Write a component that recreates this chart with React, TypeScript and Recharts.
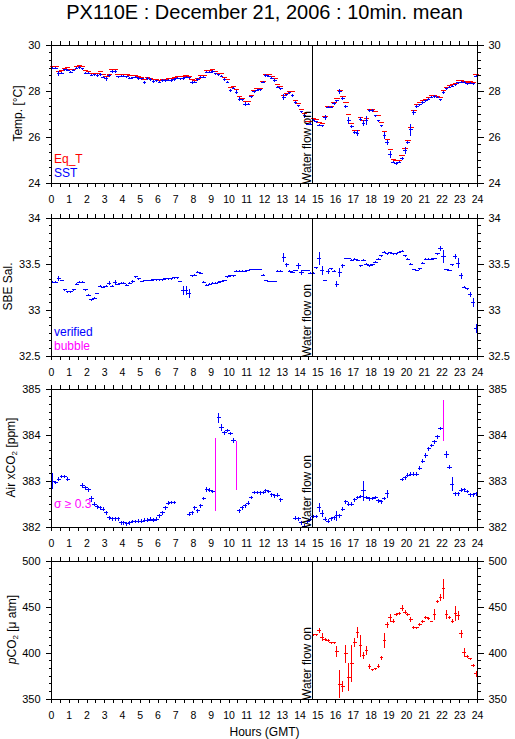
import React from "react";
import { ComposedChart, Scatter, XAxis, YAxis, ErrorBar, ReferenceLine } from "recharts";

const FONT = '"Liberation Sans", Arial, Helvetica, sans-serif';
const BLUE = "#0000ff";
const RED = "#ff0000";
const MAGENTA = "#ff00ff";

const TITLE = "PX110E : December 21, 2006 : 10min. mean";
const HOUR_TICKS = [0, 1, 2, 3, 4, 5, 6, 7, 8, 9, 10, 11, 12, 13, 14, 15, 16, 17, 18, 19, 20, 21, 22, 23, 24];
const WATER_ON = 14.7;

// 10-min means, six per hour (hh:05, hh:15, ... hh:55)
const SST = [
  29.0, 29.0, 28.75, 28.78, 28.92, 28.9,
  28.82, 28.9, 29.0, 29.02, 28.97, 28.78,
  28.78, 28.69, 28.7, 28.67, 28.72, 28.6,
  28.53, 28.67, 28.85, 28.85, 28.62, 28.64,
  28.64, 28.62, 28.56, 28.58, 28.6, 28.55,
  28.53, 28.38, 28.55, 28.5, 28.41, 28.44,
  28.38, 28.46, 28.46, 28.47, 28.46, 28.5,
  28.56, 28.53, 28.55, 28.6, 28.58, 28.38,
  28.38, 28.5, 28.6, 28.6, 28.82, 28.82,
  28.85, 28.75, 28.7, 28.65, 28.5, 28.38,
  28.02, 28.12, 27.95, 27.65, 27.62, 27.43,
  27.43, 27.75, 27.97, 28.03, 28.05, 28.38,
  28.67, 28.64, 28.56, 28.46, 28.16, 28.1,
  27.73, 27.83, 27.92, 27.8, 27.5, 27.36,
  27.1, 26.92, 26.56, 26.56, 26.73, 26.66,
  26.52, 26.49, 26.85, 27.29, 27.29, 27.46,
  27.58, 27.97, 27.68, 27.33, 26.73, 26.46,
  26.2, 26.17, 26.78, 26.6, 26.71, 27.15,
  27.15, 26.92, 26.71, 26.49, 26.08, 25.76,
  25.25, 24.91, 24.85, 24.91, 25.06, 25.4,
  25.76, 26.31, 27.07, 27.32, 27.4, 27.5,
  27.58, 27.65, 27.73, 27.76, 27.73, 27.61,
  27.94, 28.09, 28.16, 28.21, 28.27, 28.35,
  28.38, 28.38, 28.31, 28.34, 28.31, 28.64,
];
const SST_ERR: Record<string, number> = {
  "00:25": 0.1, "03:05": 0.08, "05:15": 0.06, "07:55": 0.06, "10:05": 0.08, "10:25": 0.1,
  "10:35": 0.1, "10:55": 0.08, "13:05": 0.12, "13:35": 0.08, "14:15": 0.1, "15:25": 0.1,
  "16:15": 0.1, "16:45": 0.15, "17:15": 0.12, "17:25": 0.1, "17:35": 0.12, "17:45": 0.2,
  "18:45": 0.15, "18:55": 0.1, "19:05": 0.15, "19:55": 0.15, "20:15": 0.25, "20:25": 0.1,
};

const EQ_T = [
  29.08, 29.08, 28.85, 28.88, 28.98, 29.02,
  28.93, 28.95, 29.07, 29.1, 29.05, 28.87,
  28.86, 28.78, 28.78, 28.76, 28.85, 28.7,
  28.62, 28.73, 28.93, 28.93, 28.73, 28.72,
  28.72, 28.7, 28.66, 28.66, 28.68, 28.63,
  28.6, 28.48, 28.58, 28.56, 28.5, 28.5,
  28.46, 28.52, 28.52, 28.55, 28.55, 28.57,
  28.62, 28.62, 28.64, 28.66, 28.64, 28.48,
  28.46, 28.56, 28.68, 28.68, 28.88, 28.88,
  28.92, 28.84, 28.78, 28.74, 28.6, 28.52,
  28.15, 28.2, 28.05, 27.78, 27.68, 27.55,
  27.55, 27.82, 28.04, 28.1, 28.12, 28.4,
  28.73, 28.7, 28.62, 28.55, 28.28, 28.18,
  27.8, 27.88, 27.98, 27.96, 27.6, 27.46,
  27.2, 27.02, 26.68, 26.66, 26.8, 26.78,
  26.62, 26.6, 26.9, 27.32, 27.34, 27.52,
  27.68, 28.04, 27.76, 27.5, 26.96, 26.58,
  26.28, 26.28, 26.85, 26.7, 26.8, 27.2,
  27.2, 27.1, 26.92, 26.62, 26.22, 25.88,
  25.45, 25.02, 24.98, 24.98, 25.18, 25.5,
  25.85, 26.4, 27.14, 27.4, 27.48, 27.58,
  27.62, 27.72, 27.8, 27.82, 27.78, 27.7,
  28.02, 28.14, 28.24, 28.28, 28.32, 28.44,
  28.44, 28.42, 28.38, 28.4, 28.36, 28.7,
];

const SAL = [
  33.3, 33.3, 33.34, 33.32, 33.22, 33.2,
  33.2, 33.22, 33.28, 33.3, 33.3, 33.22,
  33.16, 33.11, 33.13, 33.18, 33.26, 33.25,
  33.26, 33.29, 33.26, 33.3, 33.28, 33.29,
  33.29, 33.27, 33.29, 33.31, 33.36, 33.34,
  33.31, 33.32, 33.32, 33.32, 33.33, 33.33,
  33.33, 33.33, 33.34, 33.34, 33.34, 33.35,
  33.35, 33.31, 33.21, 33.21, 33.18, 33.37,
  33.38, 33.41, 33.4, 33.3, 33.27, 33.28,
  33.29, 33.29, 33.3, 33.31, 33.32, 33.36,
  33.37, 33.37, 33.42, 33.42, 33.42, 33.42,
  33.43, 33.44, 33.44, 33.44, 33.44, 33.38,
  33.32, 33.31, 33.31, 33.31, 33.42, 33.42,
  33.57, 33.49, 33.42, 33.41, 33.43, 33.48,
  33.41, 33.43, 33.43, 33.4, 33.4, 33.46,
  33.56, 33.43, 33.32, 33.42, 33.45, 33.42,
  33.28, 33.41, 33.48, 33.56, 33.56, 33.54,
  33.55, 33.54, 33.48, 33.54, 33.5, 33.48,
  33.49, 33.52, 33.55, 33.59, 33.63, 33.61,
  33.62, 33.61, 33.61, 33.63, 33.64, 33.59,
  33.55, 33.5, 33.44, 33.43, 33.45, 33.51,
  33.55, 33.55, 33.55, 33.56, 33.61, 33.67,
  33.58, 33.44, 33.43, 33.49, 33.58, 33.51,
  33.37, 33.25, 33.23, 33.17, 33.08, 32.8,
];
const SAL_ERR: Record<string, number> = {
  "00:25": 0.03, "03:15": 0.02, "03:35": 0.03, "04:35": 0.02, "07:25": 0.05, "07:35": 0.05,
  "07:45": 0.05, "13:05": 0.05, "13:15": 0.02, "13:55": 0.03, "14:05": 0.03, "15:05": 0.07,
  "15:15": 0.05, "15:35": 0.03, "16:05": 0.03, "16:15": 0.05, "16:25": 0.02, "21:55": 0.03,
  "22:05": 0.07, "22:45": 0.03, "22:55": 0.05, "23:05": 0.03, "23:35": 0.03, "23:45": 0.05,
  "23:55": 0.05,
};

const AIR = [
  383.0, 382.97, 383.04, 383.1, 383.1, 383.04,
  null, null, null, null, 382.9, 382.85,
  382.81, 382.61, 382.5, 382.44, 382.42, 382.39,
  382.31, 382.2, 382.18, 382.18, 382.18, 382.09,
  382.09, 382.07, 382.09, 382.12, 382.12, 382.13,
  382.13, 382.15, 382.15, 382.17, 382.15, 382.17,
  382.24, 382.31, 382.42, 382.52, 382.53, 382.53,
  null, null, null, null, 382.28, 382.31,
  382.42, 382.35, 382.46, 382.62, 382.82, 382.8,
  382.77, null, 384.37, 384.16, 384.05, 384.1,
  384.03, 383.88, null, 382.35, 382.42, 382.46,
  382.52, 382.64, 382.75, 382.75, 382.74, 382.75,
  382.79, 382.77, 382.7, 382.68, 382.69, 382.59,
  null, null, null, null, 382.19, 382.18,
  382.09, 382.02, 382.12, 382.17, 382.23, 382.23,
  382.42, 382.29, 382.17, 382.13, 382.18, 382.2,
  382.24, 382.24, 382.39, 382.55, 382.5, 382.5,
  382.59, 382.64, 382.66, 382.79, 382.64, 382.61,
  382.62, 382.64, 382.57, 382.55, 382.62, 382.72,
  null, null, null, null, 383.03, 383.07,
  383.13, 383.15, 383.15, 383.15, 383.28, 383.43,
  383.55, 383.7, 383.77, 383.85, 383.96, 384.14,
  null, 383.57, 383.3, 382.93, 382.72, 382.72,
  382.8, 382.81, 382.77, 382.7, 382.7, 382.72,
];
const AIR_ERR: Record<string, number> = {
  "00:05": 0.17, "01:45": 0.05, "02:15": 0.06, "08:45": 0.05, "09:25": 0.1, "09:35": 0.08,
  "10:15": 0.06, "15:05": 0.1, "15:15": 0.08, "16:05": 0.1, "17:35": 0.22, "18:55": 0.08,
  "21:05": 0.06, "22:15": 0.08, "22:35": 0.15,
};
// points with sigma >= 0.3
const AIR_HIGH_SIGMA_TIMES = ["09:15", "10:25", "22:05"];
const AIR_HIGH_SIGMA_VALUES = [383.14, 383.34, 384.32];
const AIR_HIGH_SIGMA_ERR = [0.79, 0.54, 0.44];

// pCO2 starts with the water flow, from 14:05 on
const PCO2_START_HOUR = 14;
const PCO2 = [
  null, null, null, null, 419.7, 419.7,
  424.4, 417.2, 414.3, 413.5, 411.0, 411.0,
  401.6, 366.3, 363.4, 399.0, 373.6, 388.8,
  411.7, 422.6, 408.1, 397.2, 402.6, 385.2,
  381.6, 382.7, 385.6, 394.7, 413.5, 430.6,
  438.2, 434.6, 441.9, 442.6, 448.8, 444.4,
  441.9, 436.4, 428.1, 427.4, 430.6, 434.3,
  438.2, 437.9, 434.3, 441.9, 456.0, 460.0,
  469.9, 441.9, 438.2, 434.6, 443.3, 440.8,
  420.8, 400.8, 396.0, 393.6, 386.3, 377.2,
];
const PCO2_ERR = [
  0, 0, 0, 0, 1, 1,
  3, 4, 1.5, 1.5, 1, 1,
  6, 15, 6, 10, 15, 20,
  5, 6, 12, 4, 5, 3,
  1.5, 1.5, 2, 2, 8, 3,
  4, 2, 1.5, 1.5, 3, 2,
  2, 3, 1.5, 1, 1.5, 1.5,
  1.5, 1.5, 1, 6, 1.5, 4,
  11, 5, 1.5, 2, 8, 5,
  4, 5, 1.5, 1.5, 1.5, 3,
];

type Pt = { h: number; v: number; ex: number; ey: number };

const slotKey = (i: number) => {
  const hh = Math.floor(i / 6);
  const mm = (i % 6) * 10 + 5;
  return `${String(hh).padStart(2, "0")}:${String(mm).padStart(2, "0")}`;
};
const keyHour = (k: string) => Number(k.slice(0, 2)) + Number(k.slice(3)) / 60;

function toPoints(vals: (number | null)[], start: number, xErr: number, err: (i: number) => number): Pt[] {
  const out: Pt[] = [];
  vals.forEach((v, i) => {
    if (v == null) return;
    out.push({ h: start + (i + 0.5) / 6, v, ex: xErr, ey: err(i) });
  });
  return out;
}

const sstPts = toPoints(SST, 0, 0.1, (i) => SST_ERR[slotKey(i)] ?? 0.05);
const eqtPts = toPoints(EQ_T, 0, 0.15, () => 0.02);
const salPts = toPoints(SAL, 0, 0.12, (i) => SAL_ERR[slotKey(i)] ?? 0.01);
const airPts = toPoints(AIR, 0, 0.12, (i) => AIR_ERR[slotKey(i)] ?? 0.04);
const airHighPts: Pt[] = AIR_HIGH_SIGMA_TIMES.map((t, i) => ({
  h: keyHour(t),
  v: AIR_HIGH_SIGMA_VALUES[i],
  ex: 0,
  ey: AIR_HIGH_SIGMA_ERR[i],
}));
const pco2Pts = toPoints(PCO2, PCO2_START_HOUR, 0.1, (i) => PCO2_ERR[i]);

const X_TICKS = HOUR_TICKS.flatMap((h) => (h < 24 ? [h, h + 0.5] : [h]));

function subdivide(majors: number[], n: number) {
  const out: number[] = [];
  for (let i = 0; i < majors.length - 1; i++) {
    const step = (majors[i + 1] - majors[i]) / n;
    for (let k = 0; k < n; k++) out.push(majors[i] + k * step);
  }
  out.push(majors[majors.length - 1]);
  return out;
}

function makeXTick(side: "top" | "bottom", withLabels: boolean) {
  return function XTick(props: any) {
    const { x, y, payload } = props;
    const v = payload.value as number;
    const whole = Math.abs(v - Math.round(v)) < 1e-6;
    const dir = side === "top" ? -1 : 1;
    return (
      <g>
        <line x1={x} y1={y} x2={x} y2={y + dir * 4} stroke="#000" />
        {withLabels && whole && (
          <text x={x} y={y + 20} textAnchor="middle" fontSize={10.5} fontFamily={FONT} fill="#000">
            {Math.round(v)}
          </text>
        )}
      </g>
    );
  };
}

function makeYTick(side: "left" | "right", majors: number[], labels: string[]) {
  return function YTick(props: any) {
    const { x, y, payload } = props;
    const idx = majors.findIndex((m) => Math.abs(m - payload.value) < 1e-6);
    const dir = side === "left" ? -1 : 1;
    const len = idx >= 0 ? 6 : 3;
    return (
      <g>
        <line x1={x} y1={y} x2={x + dir * len} y2={y} stroke="#000" />
        {idx >= 0 && (
          <text
            x={x + dir * 11}
            y={y}
            dy="0.36em"
            textAnchor={side === "left" ? "end" : "start"}
            fontSize={11}
            fontFamily={FONT}
            fill="#000"
          >
            {labels[idx]}
          </text>
        )}
      </g>
    );
  };
}

function WaterLabel(props: any) {
  const vb = props.viewBox || {};
  const x = (vb.x ?? 0) - 1;
  const yb = (vb.y ?? 0) + (vb.height ?? 0) + 1;
  return (
    <text transform={`translate(${x},${yb}) rotate(-90)`} fontSize={12} fontFamily={FONT} fill="#000">
      Water flow on
    </text>
  );
}

type Series = { pts: Pt[]; color: string };

const PLOT_LEFT = 51.5;
const PLOT_RIGHT = 477.5;
const PLOT_H = 138;
const TOP_PAD = 20;
const BOTTOM_PAD = 45;
const AXIS_H = 1;

function Panel({
  top,
  domain,
  majors,
  labels,
  series,
}: {
  top: number;
  domain: [number, number];
  majors: number[];
  labels: string[];
  series: Series[];
}) {
  const yTicks = subdivide(majors, 6);
  return (
    <div style={{ position: "absolute", left: 0, top: top - TOP_PAD }}>
      <ComposedChart
        width={515}
        height={TOP_PAD + PLOT_H + BOTTOM_PAD}
        margin={{ top: TOP_PAD - AXIS_H, right: 0, bottom: BOTTOM_PAD - AXIS_H, left: 0 }}
      >
        <XAxis
          xAxisId="b"
          type="number"
          dataKey="h"
          domain={[0, 24]}
          ticks={X_TICKS}
          interval={0}
          allowDataOverflow
          height={AXIS_H}
          tickSize={0}
          tickMargin={0}
          tickLine={false}
          axisLine={{ stroke: "#000" }}
          tick={makeXTick("bottom", true)}
        />
        <XAxis
          xAxisId="t"
          orientation="top"
          type="number"
          dataKey="h"
          domain={[0, 24]}
          ticks={X_TICKS}
          interval={0}
          allowDataOverflow
          height={AXIS_H}
          tickSize={0}
          tickMargin={0}
          tickLine={false}
          axisLine={{ stroke: "#000" }}
          tick={makeXTick("top", false)}
        />
        <YAxis
          yAxisId="l"
          type="number"
          dataKey="v"
          domain={domain}
          ticks={yTicks}
          interval={0}
          allowDataOverflow
          width={PLOT_LEFT}
          tickSize={0}
          tickMargin={0}
          tickLine={false}
          axisLine={{ stroke: "#000" }}
          tick={makeYTick("left", majors, labels)}
        />
        <YAxis
          yAxisId="r"
          orientation="right"
          type="number"
          domain={domain}
          ticks={yTicks}
          interval={0}
          allowDataOverflow
          width={515 - PLOT_RIGHT}
          tickSize={0}
          tickMargin={0}
          tickLine={false}
          axisLine={{ stroke: "#000" }}
          tick={makeYTick("right", majors, labels)}
        />
        {series.map((s, i) => (
          <Scatter
            key={i}
            xAxisId="b"
            yAxisId="l"
            data={s.pts}
            dataKey="v"
            isAnimationActive={false}
            shape={() => <g />}
            legendType="none"
          >
            <ErrorBar dataKey="ex" direction="x" width={0} stroke={s.color} strokeWidth={1} isAnimationActive={false} />
            <ErrorBar dataKey="ey" direction="y" width={0} stroke={s.color} strokeWidth={1} isAnimationActive={false} />
          </Scatter>
        ))}
        <ReferenceLine xAxisId="b" yAxisId="l" x={WATER_ON} stroke="#000" strokeWidth={1} label={<WaterLabel />} />
      </ComposedChart>
    </div>
  );
}

const PANEL_TOPS = [44.5, 217.5, 388.5, 560.5];

function RotLabel({ x, y, children }: { x: number; y: number; children: React.ReactNode }) {
  return (
    <text
      transform={`translate(${x},${y}) rotate(-90)`}
      textAnchor="middle"
      dominantBaseline="central"
      fontSize={12}
      fontFamily={FONT}
      fill="#000"
    >
      {children}
    </text>
  );
}

export default function App() {
  const mid = (i: number) => PANEL_TOPS[i] + PLOT_H / 2;
  return (
    <div style={{ position: "absolute", left: 0, top: 0, width: 515, height: 739, background: "#fff", overflow: "hidden" }}>
      <style>{`.recharts-wrapper line, .recharts-wrapper path { shape-rendering: crispEdges; }`}</style>
      <svg width={515} height={739} style={{ position: "absolute", left: 0, top: 0 }}>
        <text x={264.5} y={18.5} textAnchor="middle" fontSize={20} fontFamily={FONT} fill="#000">
          {TITLE}
        </text>
        <RotLabel x={17.5} y={mid(0)}>Temp. [°C]</RotLabel>
        <RotLabel x={7.5} y={mid(1)}>SBE Sal.</RotLabel>
        <RotLabel x={11} y={mid(2)}>
          Air xCO<tspan fontSize={8} dy={3}>2</tspan>
          <tspan dy={-3}> [ppm]</tspan>
        </RotLabel>
        <RotLabel x={12} y={mid(3)}>
          <tspan fontStyle="italic">p</tspan>CO<tspan fontSize={8} dy={3}>2</tspan>
          <tspan dy={-3}> [μ atm]</tspan>
        </RotLabel>
        <text x={54} y={162.5} fontSize={12} fontFamily={FONT} fill={RED}>Eq_T</text>
        <text x={54} y={176.5} fontSize={12} fontFamily={FONT} fill={BLUE}>SST</text>
        <text x={54} y={336} fontSize={12} fontFamily={FONT} fill={BLUE}>verified</text>
        <text x={54} y={349.5} fontSize={12} fontFamily={FONT} fill={MAGENTA}>bubble</text>
        <text x={54} y={508} fontSize={12} fontFamily={FONT} fill={MAGENTA}>σ ≥ 0.3</text>
        <text x={264.5} y={736} textAnchor="middle" fontSize={12} fontFamily={FONT} fill="#000">
          Hours (GMT)
        </text>
      </svg>
      <Panel
        top={PANEL_TOPS[0]}
        domain={[24, 30]}
        majors={[24, 26, 28, 30]}
        labels={["24", "26", "28", "30"]}
        series={[
          { pts: eqtPts, color: RED },
          { pts: sstPts, color: BLUE },
        ]}
      />
      <Panel
        top={PANEL_TOPS[1]}
        domain={[32.5, 34]}
        majors={[32.5, 33, 33.5, 34]}
        labels={["32.5", "33", "33.5", "34"]}
        series={[{ pts: salPts, color: BLUE }]}
      />
      <Panel
        top={PANEL_TOPS[2]}
        domain={[382, 385]}
        majors={[382, 383, 384, 385]}
        labels={["382", "383", "384", "385"]}
        series={[
          { pts: airPts, color: BLUE },
          { pts: airHighPts, color: MAGENTA },
        ]}
      />
      <Panel
        top={PANEL_TOPS[3]}
        domain={[350, 500]}
        majors={[350, 400, 450, 500]}
        labels={["350", "400", "450", "500"]}
        series={[{ pts: pco2Pts, color: RED }]}
      />
    </div>
  );
}
